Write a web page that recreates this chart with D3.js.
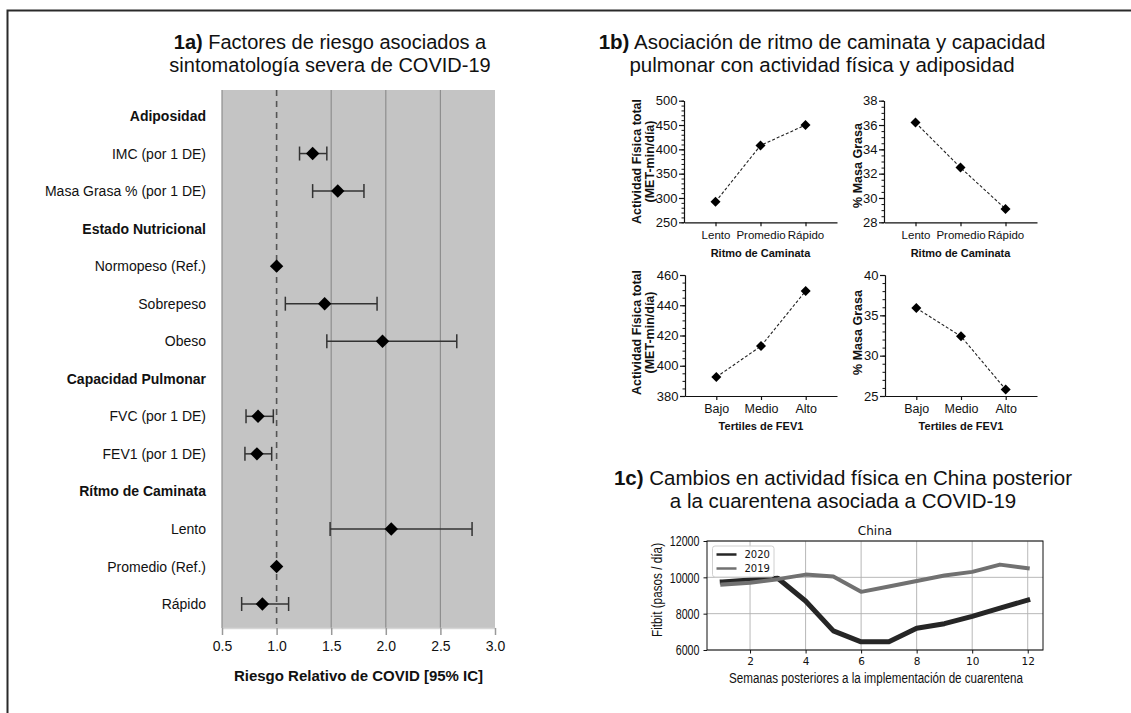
<!DOCTYPE html>
<html>
<head>
<meta charset="utf-8">
<script src="https://cdn.jsdelivr.net/npm/d3@7"></script>
<style>
  body { margin: 0; background: #fff; }
  svg { display: block; font-family: "Liberation Sans", Arial, sans-serif; }
</style>
</head>
<body>
<div id="chart"></div>
<script>
// ---- 1a: forest plot ----
const forestRows = ['Adiposidad', 'IMC (por 1 DE)', 'Masa Grasa % (por 1 DE)', 'Estado Nutricional',
  'Normopeso (Ref.)', 'Sobrepeso', 'Obeso', 'Capacidad Pulmonar', 'FVC (por 1 DE)', 'FEV1 (por 1 DE)',
  'Rítmo de Caminata', 'Lento', 'Promedio (Ref.)', 'Rápido'];
const forestHeader = [true, false, false, true, false, false, false, true, false, false, true, false, false, false];
const forestEst  = [null, 1.33, 1.56, null, 1.00, 1.44, 1.97, null, 0.83, 0.82, null, 2.05, 1.00, 0.87];
const forestLow  = [null, 1.21, 1.33, null, null, 1.08, 1.46, null, 0.72, 0.71, null, 1.49, null, 0.68];
const forestHigh = [null, 1.46, 1.80, null, null, 1.92, 2.65, null, 0.97, 0.955, null, 2.79, null, 1.11];
const forestTicks = [0.5, 1.0, 1.5, 2.0, 2.5, 3.0];

// ---- 1b: four small panels ----
const paceCats = ['Lento', 'Promedio', 'Rápido'];
const paceActivity = [292, 408, 450];
const paceFat = [36.2, 32.5, 29.1];
const fevCats = ['Bajo', 'Medio', 'Alto'];
const fevActivity = [392.5, 413, 449.5];
const fevFat = [35.9, 32.4, 25.8];

// ---- 1c: Fitbit steps, China ----
const weeks = [1, 2, 3, 4, 5, 6, 7, 8, 9, 10, 11, 12];
const steps2020 = [9750, 9850, 9950, 8700, 7050, 6450, 6450, 7200, 7450, 7850, 8300, 8750];
const steps2019 = [9600, 9700, 9900, 10150, 10050, 9200, 9500, 9800, 10100, 10300, 10700, 10500];
const stepsTicksY = [6000, 8000, 10000, 12000];
const stepsTicksX = [2, 4, 6, 8, 10, 12];

(function () {
  'use strict';

  const W = 1131, H = 713;
  const svg = d3.select('#chart').append('svg')
    .attr('width', W).attr('height', H);

  // borde exterior (solo arriba e izquierda visibles)
  svg.append('path')
    .attr('d', `M7.5,${H} V10.5 H${W}`)
    .attr('fill', 'none').attr('stroke', '#2a2a2a').attr('stroke-width', 2);

  function title(cx, y0, bold, rest, line2, size) {
    const t = svg.append('text').attr('x', cx).attr('y', y0)
      .attr('text-anchor', 'middle').style('font-size', size).attr('fill', '#111');
    t.append('tspan').style('font-weight', 'bold').text(bold);
    t.append('tspan').text(rest);
    svg.append('text').attr('x', cx).attr('y', y0 + 23)
      .attr('text-anchor', 'middle').style('font-size', size).attr('fill', '#111')
      .text(line2);
  }

  // simula una fuente condensada (Arial Narrow) comprimiendo el texto
  function squeeze(sel, ratio) {
    sel.each(function () {
      const L = this.getComputedTextLength();
      d3.select(this).attr('textLength', L * ratio).attr('lengthAdjust', 'spacingAndGlyphs');
    });
  }

  /* ===================== 1a ===================== */
  title(330, 49, '1a)', ' Factores de riesgo asociados a', 'sintomatología severa de COVID-19', '20px');

  const fx = d3.scaleLinear().domain([0.5, 3.0]).range([222, 495]);
  const fy = d3.scalePoint().domain(d3.range(forestRows.length)).range([116, 604]);
  const fTop = 90, fBot = 628;

  svg.append('rect')
    .attr('x', fx(0.5)).attr('y', fTop)
    .attr('width', fx(3.0) - fx(0.5)).attr('height', fBot - fTop)
    .attr('fill', '#c4c4c4');

  // rejilla vertical
  svg.append('g').selectAll('line')
    .data(forestTicks.filter(d => d !== 1.0 && d !== 3.0))
    .join('line')
    .attr('x1', d => fx(d)).attr('x2', d => fx(d))
    .attr('y1', fTop).attr('y2', fBot)
    .attr('stroke', '#8e8e8e').attr('stroke-width', 1.2);

  // referencia RR = 1
  svg.append('line')
    .attr('x1', fx(1)).attr('x2', fx(1)).attr('y1', fTop).attr('y2', fBot)
    .attr('stroke', '#555').attr('stroke-width', 1.6).attr('stroke-dasharray', '6,5');

  // eje X
  svg.append('g')
    .attr('transform', `translate(0,${fBot})`)
    .call(d3.axisBottom(fx).tickValues(forestTicks).tickFormat(d3.format('.1f'))
      .tickSize(7).tickPadding(6).tickSizeOuter(0))
    .call(sel => {
      sel.select('.domain').attr('stroke', '#d6d6d6').attr('stroke-width', 1.5);
      sel.selectAll('line').attr('stroke', '#999').attr('stroke-width', 1.5);
      sel.selectAll('text').attr('fill', '#111').style('font-size', '14px')
        .style('font-family', '"Liberation Sans", Arial, sans-serif');
    });

  svg.append('text')
    .attr('x', (fx(0.5) + fx(3.0)) / 2).attr('y', 681)
    .attr('text-anchor', 'middle').style('font-size', '15px').style('font-weight', 'bold')
    .attr('fill', '#111').text('Riesgo Relativo de COVID [95% IC]');

  // etiquetas de filas
  svg.append('g').selectAll('text')
    .data(forestRows)
    .join('text')
    .attr('x', 206).attr('y', (d, i) => fy(i)).attr('dy', '0.36em')
    .attr('text-anchor', 'end')
    .style('font-size', '14px')
    .style('font-weight', (d, i) => forestHeader[i] ? 'bold' : 'normal')
    .attr('fill', '#111')
    .text(d => d);

  // intervalos de confianza
  const ciIdx = d3.range(forestRows.length).filter(i => forestLow[i] != null);
  const ci = svg.append('g').attr('stroke', '#333').attr('stroke-width', 1.5);
  ci.selectAll('line.h').data(ciIdx).join('line').attr('class', 'h')
    .attr('x1', i => fx(forestLow[i])).attr('x2', i => fx(forestHigh[i]))
    .attr('y1', i => fy(i)).attr('y2', i => fy(i));
  ci.selectAll('line.lo').data(ciIdx).join('line').attr('class', 'lo')
    .attr('x1', i => fx(forestLow[i])).attr('x2', i => fx(forestLow[i]))
    .attr('y1', i => fy(i) - 7).attr('y2', i => fy(i) + 7);
  ci.selectAll('line.hi').data(ciIdx).join('line').attr('class', 'hi')
    .attr('x1', i => fx(forestHigh[i])).attr('x2', i => fx(forestHigh[i]))
    .attr('y1', i => fy(i) - 7).attr('y2', i => fy(i) + 7);

  // estimaciones (rombos)
  const estIdx = d3.range(forestRows.length).filter(i => forestEst[i] != null);
  svg.append('g').selectAll('path')
    .data(estIdx)
    .join('path')
    .attr('d', d3.symbol(d3.symbolSquare, 90))
    .attr('transform', i => `translate(${fx(forestEst[i])},${fy(i)}) rotate(45)`)
    .attr('fill', '#000');

  /* ===================== 1b ===================== */
  title(822, 49, '1b)', ' Asociación de ritmo de caminata y capacidad', 'pulmonar con actividad física y adiposidad', '20.5px');

  function smallPlot(o) {
    const x = d3.scalePoint().domain(o.cats).range([o.left, o.right]).padding(0.7);
    const y = d3.scaleLinear().domain(o.domain).range([o.bottom, o.top]);
    const g = svg.append('g');

    // ticks menores
    g.append('g').attr('transform', `translate(${o.left},0)`)
      .call(d3.axisLeft(y).tickValues(d3.range(o.domain[0], o.domain[1] + 1e-9, o.minor))
        .tickSize(2.5).tickFormat('').tickSizeOuter(0))
      .call(sel => sel.selectAll('path,line').attr('stroke', '#111'));

    // ticks mayores
    g.append('g').attr('transform', `translate(${o.left},0)`)
      .call(d3.axisLeft(y).tickValues(d3.range(o.domain[0], o.domain[1] + 1e-9, o.major))
        .tickSize(5).tickPadding(1.5).tickSizeOuter(0))
      .call(sel => {
        sel.selectAll('path,line').attr('stroke', '#111').attr('stroke-width', 1.2);
        sel.selectAll('text').attr('fill', '#111').style('font-size', '13px')
          .style('font-family', '"Liberation Sans", Arial, sans-serif');
      });

    g.append('g').attr('transform', `translate(0,${o.bottom})`)
      .call(d3.axisBottom(x).tickSize(4).tickPadding(o.catPad).tickSizeOuter(0))
      .call(sel => {
        sel.selectAll('path,line').attr('stroke', '#111').attr('stroke-width', 1.2);
        sel.selectAll('text').attr('fill', '#111').style('font-size', o.catSize)
          .style('font-family', '"Liberation Sans", Arial, sans-serif');
      });

    g.append('path')
      .datum(o.values)
      .attr('d', d3.line().x((d, i) => x(o.cats[i])).y(d => y(d)))
      .attr('fill', 'none').attr('stroke', '#222').attr('stroke-width', 1.1)
      .attr('stroke-dasharray', '3,2');

    g.selectAll('path.pt')
      .data(o.values)
      .join('path').attr('class', 'pt')
      .attr('d', d3.symbol(d3.symbolSquare, 50))
      .attr('transform', (d, i) => `translate(${x(o.cats[i])},${y(d)}) rotate(45)`)
      .attr('fill', '#000');

    g.append('text')
      .attr('x', (o.left + o.right) / 2).attr('y', o.xTitleY)
      .attr('text-anchor', 'middle').style('font-size', '11px').style('font-weight', 'bold')
      .attr('fill', '#111').text(o.xTitle);

    const cy = (o.top + o.bottom) / 2 + o.yTitleShift;
    o.yTitle.forEach((line, k) => {
      g.append('text')
        .attr('transform', `translate(${o.yTitleX[k]},${cy}) rotate(-90)`)
        .attr('text-anchor', 'middle').style('font-size', '12.5px').style('font-weight', 'bold')
        .attr('fill', '#111').text(line);
    });
  }

  smallPlot({
    cats: paceCats, values: paceActivity, domain: [250, 500], major: 50, minor: 10,
    left: 684, right: 837, top: 100.7, bottom: 222.3, catPad: 5, catSize: '11.5px',
    xTitle: 'Ritmo de Caminata', xTitleY: 256.5,
    yTitle: ['Actividad Física total', '(MET-min/día)'], yTitleX: [641, 654], yTitleShift: 0
  });
  smallPlot({
    cats: paceCats, values: paceFat, domain: [28, 38], major: 2, minor: 0.5,
    left: 884, right: 1037, top: 100.7, bottom: 222.3, catPad: 5, catSize: '11.5px',
    xTitle: 'Ritmo de Caminata', xTitleY: 256.5,
    yTitle: ['% Masa Grasa'], yTitleX: [862], yTitleShift: 4
  });
  smallPlot({
    cats: fevCats, values: fevActivity, domain: [380, 460], major: 20, minor: 5,
    left: 685, right: 837, top: 275, bottom: 396, catPad: 4, catSize: '12.5px',
    xTitle: 'Tertiles de FEV1', xTitleY: 430,
    yTitle: ['Actividad Física total', '(MET-min/día)'], yTitleX: [641, 654], yTitleShift: -3
  });
  smallPlot({
    cats: fevCats, values: fevFat, domain: [25, 40], major: 5, minor: 1,
    left: 885, right: 1037, top: 275, bottom: 396, catPad: 4, catSize: '12.5px',
    xTitle: 'Tertiles de FEV1', xTitleY: 430,
    yTitle: ['% Masa Grasa'], yTitleX: [862], yTitleShift: -3
  });

  /* ===================== 1c ===================== */
  title(843, 485, '1c)', ' Cambios en actividad física en China posterior', 'a la cuarentena asociada a COVID-19', '20.5px');

  const cL = 707, cR = 1043, cT = 541, cB = 650;
  const cx = d3.scaleLinear().domain([0.45, 12.55]).range([cL, cR]);
  const cy = d3.scaleLinear().domain([6000, 12000]).range([cB, cT]);
  const dejavu = '"DejaVu Sans", sans-serif';

  svg.append('text').attr('x', (cL + cR) / 2).attr('y', 535)
    .attr('text-anchor', 'middle').style('font-family', dejavu).style('font-size', '12px')
    .attr('fill', '#111').text('China');

  // rejilla
  const grid = svg.append('g').attr('stroke', '#b0b0b0').attr('stroke-width', 0.9);
  grid.selectAll('line.gx').data(stepsTicksX).join('line').attr('class', 'gx')
    .attr('x1', d => cx(d)).attr('x2', d => cx(d)).attr('y1', cT).attr('y2', cB);
  grid.selectAll('line.gy').data(stepsTicksY).join('line').attr('class', 'gy')
    .attr('x1', cL).attr('x2', cR).attr('y1', d => cy(d)).attr('y2', d => cy(d));

  const lineGen = d3.line().x((d, i) => cx(weeks[i])).y(d => cy(d));
  svg.append('path').datum(steps2020).attr('d', lineGen)
    .attr('fill', 'none').attr('stroke', '#262626').attr('stroke-width', 5)
    .attr('stroke-linejoin', 'round').attr('stroke-linecap', 'square');
  svg.append('path').datum(steps2019).attr('d', lineGen)
    .attr('fill', 'none').attr('stroke', '#717171').attr('stroke-width', 4)
    .attr('stroke-linejoin', 'round').attr('stroke-linecap', 'square');

  svg.append('rect').attr('x', cL).attr('y', cT).attr('width', cR - cL).attr('height', cB - cT)
    .attr('fill', 'none').attr('stroke', '#111').attr('stroke-width', 1);

  svg.append('g').attr('transform', `translate(0,${cB})`)
    .call(d3.axisBottom(cx).tickValues(stepsTicksX).tickSize(3.5).tickPadding(4).tickSizeOuter(0))
    .call(sel => {
      sel.select('.domain').remove();
      sel.selectAll('line').attr('stroke', '#111');
      sel.selectAll('text').attr('fill', '#111').style('font-size', '10.5px').style('font-family', dejavu);
    });
  svg.append('g').attr('transform', `translate(${cL},0)`)
    .call(d3.axisLeft(cy).tickValues(stepsTicksY).tickFormat(d3.format('d')).tickSize(3.5).tickPadding(4).tickSizeOuter(0))
    .call(sel => {
      sel.select('.domain').remove();
      sel.selectAll('line').attr('stroke', '#111');
      sel.selectAll('text').attr('fill', '#111').style('font-size', '15.5px')
        .call(squeeze, 0.69);
    });

  svg.append('text').attr('x', (cL + cR) / 2 + 1).attr('y', 683)
    .attr('text-anchor', 'middle').style('font-size', '14px')
    .attr('fill', '#111').text('Semanas posteriores a la implementación de cuarentena')
    .call(squeeze, 0.83);
  svg.append('text').attr('transform', `translate(662,590) rotate(-90)`)
    .attr('text-anchor', 'middle').style('font-size', '14px')
    .attr('fill', '#111').text('Fitbit (pasos / día)')
    .call(squeeze, 0.84);

  // leyenda
  const leg = svg.append('g').attr('transform', 'translate(712.5,546)');
  leg.append('rect').attr('width', 61.5).attr('height', 31).attr('rx', 2.5)
    .attr('fill', '#fff').attr('fill-opacity', 0.85).attr('stroke', '#d0d0d0');
  const legItems = [['2020', '#262626'], ['2019', '#717171']];
  legItems.forEach(([lab, col], k) => {
    const yy = 8.5 + k * 14;
    leg.append('line').attr('x1', 4).attr('x2', 24).attr('y1', yy).attr('y2', yy)
      .attr('stroke', col).attr('stroke-width', 2.5);
    leg.append('text').attr('x', 32).attr('y', yy).attr('dy', '0.35em')
      .style('font-family', dejavu).style('font-size', '10px').attr('fill', '#111').text(lab);
  });
})();
</script>
</body>
</html>
